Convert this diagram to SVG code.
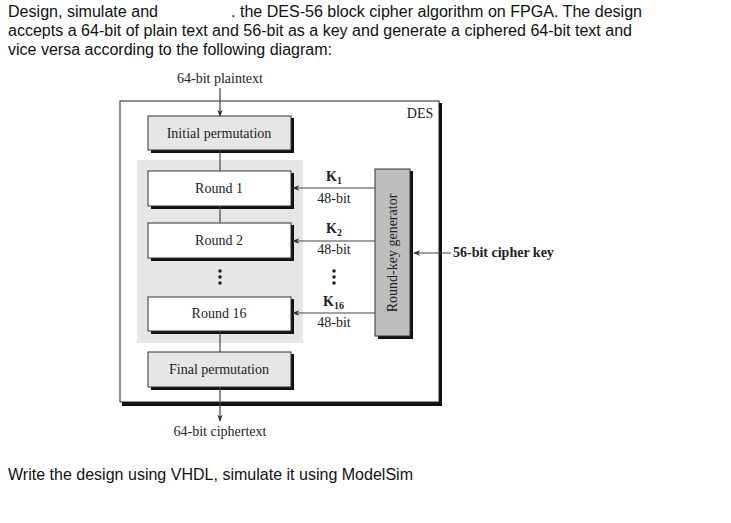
<svg xmlns="http://www.w3.org/2000/svg" width="731" height="523" viewBox="0 0 731 523">
<style>
.p{font-family:"Liberation Sans",Arial,sans-serif;font-size:16px;fill:#111}
.s{font-family:"Liberation Serif","Times New Roman",serif;font-size:14px;fill:#222}
.b{font-weight:bold}
.box{stroke:#333;stroke-width:1}
.sh{fill:#111}
.ln{stroke:#444;stroke-width:1.2;fill:none}
</style>
<defs>
<marker id="ah" viewBox="0 0 10 10" refX="9" refY="5" markerWidth="7" markerHeight="7" orient="auto-start-reverse" markerUnits="userSpaceOnUse">
<path d="M0,1 L10,5 L0,9 L3,5 z" fill="#333"/>
</marker>
</defs>
<rect width="731" height="523" fill="#fff"/>
<text class="p" x="8" y="17" textLength="150" lengthAdjust="spacingAndGlyphs">Design, simulate and</text>
<text class="p" x="231" y="17" textLength="411" lengthAdjust="spacingAndGlyphs">. the DES-56 block cipher algorithm on FPGA. The design</text>
<text class="p" x="8" y="36" textLength="624" lengthAdjust="spacingAndGlyphs">accepts a 64-bit of plain text and 56-bit as a key and generate a ciphered 64-bit text and</text>
<text class="p" x="8" y="55" textLength="324" lengthAdjust="spacingAndGlyphs">vice versa according to the following diagram:</text>
<text class="p" x="8" y="480" textLength="405" lengthAdjust="spacingAndGlyphs">Write the design using VHDL, simulate it using ModelSim</text>

<g id="des">
<rect x="122" y="103" width="320" height="303" class="sh"/>
<rect x="120" y="101" width="319" height="301" fill="#fff" stroke="#222" stroke-width="1"/>
<text class="s" x="420" y="118" text-anchor="middle">DES</text>
</g>
<g id="roundsArea"><rect x="137" y="160" width="166" height="183" fill="#e6e6e6"/></g>

<g id="initial">
<rect x="151" y="118" width="143" height="35" class="sh"/>
<rect x="148" y="116" width="143" height="34" fill="#e6e6e6" class="box"/>
<text class="s" x="219" y="138" text-anchor="middle">Initial permutation</text>
</g>
<g id="round1">
<rect x="151" y="173" width="143" height="36" class="sh"/>
<rect x="148" y="171" width="143" height="35" fill="#fff" class="box"/>
<text class="s" x="219" y="193" text-anchor="middle">Round 1</text>
</g>
<g id="round2">
<rect x="151" y="225" width="143" height="36" class="sh"/>
<rect x="148" y="223" width="143" height="35" fill="#fff" class="box"/>
<text class="s" x="219" y="245" text-anchor="middle">Round 2</text>
</g>
<g id="round16">
<rect x="151" y="299" width="143" height="35" class="sh"/>
<rect x="148" y="297" width="143" height="34" fill="#fff" class="box"/>
<text class="s" x="219" y="318" text-anchor="middle">Round 16</text>
</g>
<g id="final">
<rect x="151" y="354" width="143" height="36" class="sh"/>
<rect x="148" y="352" width="143" height="35" fill="#e6e6e6" class="box"/>
<text class="s" x="219" y="374" text-anchor="middle">Final permutation</text>
</g>
<g id="keygen">
<rect x="378" y="171" width="35" height="168" class="sh"/>
<rect x="375" y="169" width="35" height="167" fill="#bdbdbd" class="box"/>
<text class="s" transform="translate(397,253) rotate(-90)" text-anchor="middle">Round-key generator</text>
</g>

<g id="labels">
<text class="s" x="220" y="83" text-anchor="middle">64-bit plaintext</text>
<text class="s" x="220" y="436" text-anchor="middle">64-bit ciphertext</text>
<text class="s b" x="326" y="181">K<tspan font-size="10" dy="3">1</tspan></text>
<text class="s" x="334" y="203" text-anchor="middle">48-bit</text>
<text class="s b" x="326" y="233">K<tspan font-size="10" dy="3">2</tspan></text>
<text class="s" x="334" y="254" text-anchor="middle">48-bit</text>
<text class="s b" x="323" y="306">K<tspan font-size="10" dy="3">16</tspan></text>
<text class="s" x="334" y="327" text-anchor="middle">48-bit</text>
<text class="s b" x="453" y="257">56-bit cipher key</text>
<g fill="#222">
<circle cx="220" cy="271" r="1.8"/><circle cx="220" cy="277" r="1.8"/><circle cx="220" cy="283" r="1.8"/>
<circle cx="334" cy="271" r="1.8"/><circle cx="334" cy="277" r="1.8"/><circle cx="334" cy="283" r="1.8"/>
</g>
</g>

<g id="connectors">
<line class="ln" x1="220" y1="88" x2="220" y2="116" marker-end="url(#ah)"/>
<line class="ln" x1="220" y1="150" x2="220" y2="171"/>
<line class="ln" x1="220" y1="206" x2="220" y2="223"/>
<line class="ln" x1="220" y1="331" x2="220" y2="352"/>
<line class="ln" x1="220" y1="387" x2="220" y2="421" marker-end="url(#ah)"/>
<line class="ln" x1="375" y1="188" x2="293" y2="188" marker-end="url(#ah)"/>
<line class="ln" x1="375" y1="241" x2="293" y2="241" marker-end="url(#ah)"/>
<line class="ln" x1="375" y1="313" x2="293" y2="313" marker-end="url(#ah)"/>
<line class="ln" x1="451" y1="253" x2="414" y2="253" marker-end="url(#ah)"/>
</g>
</svg>
